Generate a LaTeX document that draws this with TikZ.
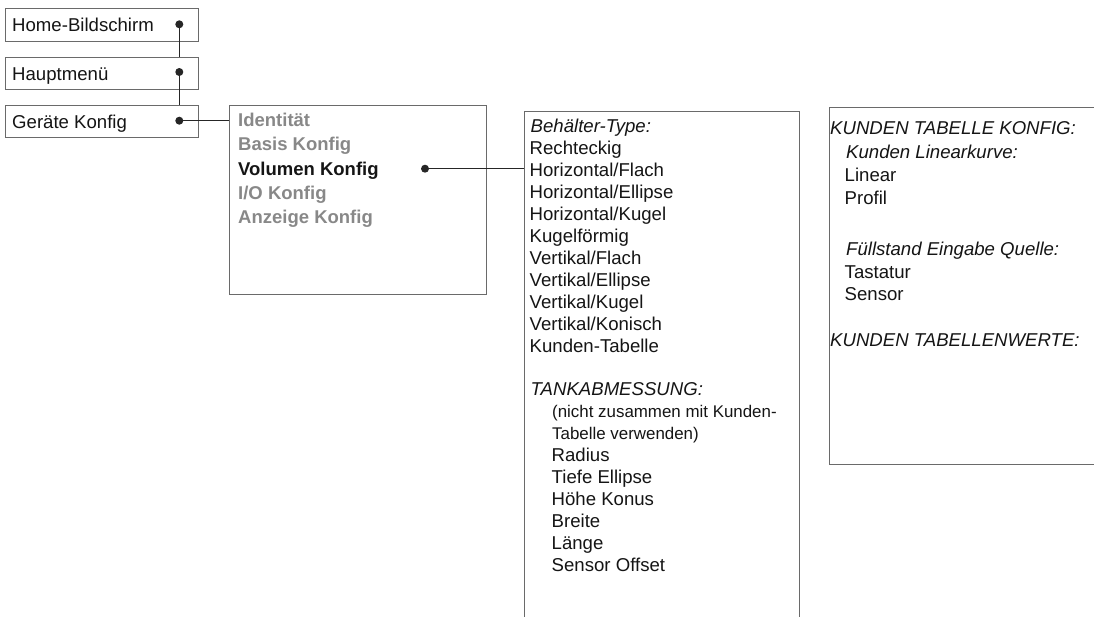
\documentclass[tikz,border=0pt]{standalone}
\usepackage{fontspec}
\setmainfont{Liberation Sans}
\definecolor{boxgray}{HTML}{6A6A6A}
\definecolor{linedark}{HTML}{262626}
\definecolor{menugray}{HTML}{888888}
\definecolor{textblack}{HTML}{151515}
\tikzset{
  box/.style={draw=boxgray, line width=1.1pt, fill=white, inner sep=0pt, anchor=north west},
  txt/.style={anchor=base west, inner sep=0pt, font=\fontsize{18.6}{22}\selectfont, text=textblack},
  itxt/.style={txt, font=\fontsize{18.6}{22}\selectfont\itshape},
  stxt/.style={txt, font=\fontsize{16.9}{21}\selectfont},
  gtxt/.style={txt, font=\fontsize{18.5}{22}\selectfont\bfseries, text=menugray},
  btxt/.style={txt, font=\fontsize{18.5}{22}\selectfont\bfseries, text=textblack},
  dotnode/.style={circle, fill=linedark, inner sep=0pt, minimum size=8pt},
  conn/.style={draw=linedark, line width=1.4pt},
}
\begin{document}
\begin{tikzpicture}[x=1pt, y=-1pt]
\useasboundingbox (0,0) rectangle (1094,616);
\clip (0,0) rectangle (1094,616);
\fill[white] (0,0) rectangle (1094,616);

% left menu boxes
\node[box, minimum width=192.4pt, minimum height=33pt] (b1) at (5.3,8.3) {};
\node[box, minimum width=192.4pt, minimum height=32.6pt] (b2) at (5.3,56.7) {};
\node[box, minimum width=192.4pt, minimum height=32.3pt] (b3) at (5.3,105) {};
\node[txt] (t1) at (12,31.7) {Home-Bildschirm};
\node[txt] (t2) at (12,80) {Hauptmenü};
\node[txt] (t3) at (12,128.3) {Geräte Konfig};

% box 4
\node[box, minimum width=256.7pt, minimum height=189pt] (b4) at (229.3,105) {};
\node[gtxt] (m1) at (238,126.8) {Identität};
\node[gtxt] (m2) at (238,150.95) {Basis Konfig};
\node[btxt] (m3) at (238,175.1) {Volumen Konfig};
\node[gtxt] (m4) at (238,199.25) {I/O Konfig};
\node[gtxt] (m5) at (238,223.4) {Anzeige Konfig};

% box 5
\node[box, minimum width=275pt, minimum height=530pt] (b5) at (523.7,111) {};
\node[itxt] (v0) at (530.5,132.5) {Behälter-Type:};
\foreach \n/\s [count=\k] in {v1/Rechteckig, v2/Horizontal\slash Flach, v3/Horizontal\slash Ellipse,
  v4/Horizontal\slash Kugel, v5/Kugelförmig, v6/Vertikal\slash Flach, v7/Vertikal\slash Ellipse,
  v8/Vertikal\slash Kugel, v9/Vertikal\slash Konisch, v10/Kunden-Tabelle}
  \node[txt] (\n) at (529.5,132.5+21.95*\k) {\s};
\node[itxt] (v12) at (530.5,132.5+21.95*12) {TANKABMESSUNG:};
\node[stxt] (v13) at (552,132.5+21.95*13) {(nicht zusammen mit Kunden-};
\node[stxt] (v14) at (552,132.5+21.95*14) {Tabelle verwenden)};
\foreach \n/\s [count=\k from 15] in {v15/Radius, v16/Tiefe Ellipse, v17/Höhe Konus,
  v18/Breite, v19/Länge, v20/Sensor Offset}
  \node[txt] (\n) at (551.5,132.5+21.95*\k) {\s};

% box 6
\node[box, minimum width=300pt, minimum height=357pt] (b6) at (829,107) {};
\node[itxt] (k1) at (830,134.8) {KUNDEN TABELLE KONFIG:};
\node[itxt] (k2) at (846,158.2) {Kunden Linearkurve:};
\node[txt] (k3) at (844.5,181.5) {Linear};
\node[txt] (k4) at (844.5,204.8) {Profil};
\node[itxt] (k5) at (846,255.5) {Füllstand Eingabe Quelle:};
\node[txt] (k6) at (844.5,278.2) {Tastatur};
\node[txt] (k7) at (844.5,300.5) {Sensor};
\node[itxt] (k8) at (830,346.5) {KUNDEN TABELLENWERTE:};

% dots
\node[dotnode] (d1) at (179.3,24.3) {};
\node[dotnode] (d2) at (179.3,72) {};
\node[dotnode] (d3) at (179.3,120.7) {};
\node[dotnode] (d4) at (425,168.7) {};

% connectors
\draw[conn] (d1.center) -- (d1.center |- b2.north);
\draw[conn] (d2.center) -- (d2.center |- b3.north);
\draw[conn] (d3.center) -- (d3.center -| b4.west);
\draw[conn] (d4.center) -- (d4.center -| b5.west);
\end{tikzpicture}
\end{document}
